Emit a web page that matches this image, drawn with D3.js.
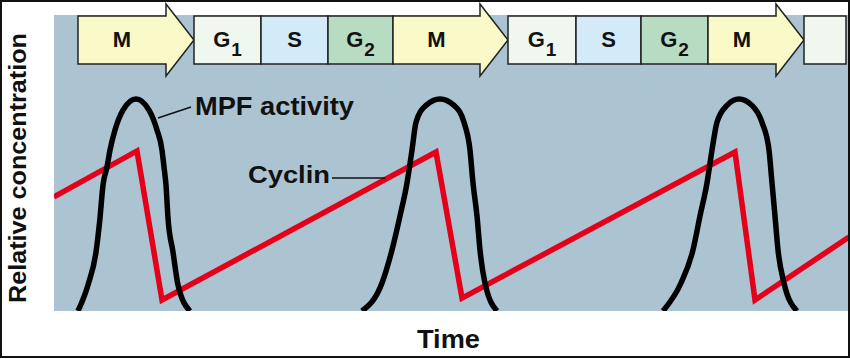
<!DOCTYPE html>
<html>
<head>
<meta charset="utf-8">
<script src="https://cdn.jsdelivr.net/npm/d3@7"></script>
<style>
body { margin: 0; background: #fff; }
text { font-family: "Liberation Sans", Arial, sans-serif; font-weight: bold; fill: #111; }
</style>
</head>
<body>
<div id="output"></div>
<script>
var w = 850;
var h = 359;

// cell cycle phases (time units)
var phaseNames = ['M', 'G1', 'S', 'G2', 'M', 'G1', 'S', 'G2', 'M', 'G1'];
var phaseEdges = [4.8, 28, 41.4, 54.8, 67.8, 90.8, 104.4, 117.4, 130.8, 150, 158.4];
var phaseColors = { M: '#fafac8', G1: '#eff7ef', S: '#d3ebf8', G2: '#b7dcc1' };

// cyclin concentration (red)
var cyclinTime = [0, 16.6, 21.6, 76.4, 81.6, 136.2, 140.2, 159];
var cyclinLevel = [53.8, 75.5, 5.2, 75, 6.1, 75, 5.2, 34.9];

// MPF activity pulses (black)
var mpfTime = [
	[4.8, 6.8, 8.4, 9.2, 9.8, 10.6, 11.2, 12.2, 13.8, 16.4, 19, 20.6, 21.6, 22, 22.4, 22.8, 23.8, 24.8, 27.2],
	[61.6, 65.6, 67.6, 69.2, 70.6, 71.6, 72.4, 74.4, 77.2, 80, 82, 83.2, 83.8, 84.6, 85.2, 86.2, 88.6],
	[121.8, 125.4, 127.8, 129.2, 130.6, 131.6, 132.6, 134.6, 137, 139.6, 141.6, 143, 143.6, 144.2, 144.8, 146, 148.6]
];
var mpfLevel = [
	[0, 12.3, 27.8, 43.9, 59.4, 67.9, 75.9, 85.4, 94.8, 100, 94.8, 85.4, 75.9, 67.9, 59.4, 43.9, 27.8, 12.3, 0],
	[0, 13.2, 28.8, 44.8, 60.4, 75.9, 89, 97, 100, 97, 89, 75.9, 60.4, 44.8, 28.8, 13.2, 0],
	[0, 13.2, 28.8, 44.8, 60.4, 75.9, 89, 97, 100, 97, 89, 75.9, 60.4, 44.8, 28.8, 13.2, 0]
];

var x = d3.scaleLinear().domain([0, 159]).range([54, 849]);
var y = d3.scaleLinear().domain([0, 100]).range([311, 99]);
var plotTop = 15;

var svg = d3.select('#output').append('svg')
	.attr('width', w)
	.attr('height', h);

svg.append('rect')
	.attr('x', x(0)).attr('y', plotTop)
	.attr('width', x(159) - x(0)).attr('height', y(0) - plotTop)
	.attr('fill', '#acc3d2');

svg.append('clipPath').attr('id', 'plot')
	.append('rect')
	.attr('x', x(0)).attr('y', plotTop)
	.attr('width', x(159) - x(0)).attr('height', y(0) - plotTop);

// phase bar
var barTop = 16, barBot = 64, head = 28;
var phases = phaseNames.map(function (n, i) {
	return { name: n, x0: x(phaseEdges[i]), x1: x(phaseEdges[i + 1]), last: i === phaseNames.length - 1 };
});

svg.selectAll('path.phase')
	.data(phases)
	.enter()
	.append('path')
	.attr('class', 'phase')
	.attr('d', function (d) {
		if (d.name === 'M') {
			return 'M' + d.x0 + ',' + barTop + 'H' + (d.x1 - head) + 'V4L' + d.x1 + ',' + ((barTop + barBot) / 2) +
				'L' + (d.x1 - head) + ',76V' + barBot + 'H' + d.x0 + 'Z';
		}
		return 'M' + d.x0 + ',' + barTop + 'H' + d.x1 + 'V' + barBot + 'H' + d.x0 + 'Z';
	})
	.attr('fill', function (d) { return phaseColors[d.name]; })
	.attr('stroke', '#222')
	.attr('stroke-width', 1.5);

var labels = svg.selectAll('text.phase')
	.data(phases.filter(function (d) { return !d.last; }))
	.enter()
	.append('text')
	.attr('class', 'phase')
	.attr('text-anchor', 'middle')
	.attr('font-size', 22)
	.attr('x', function (d) { return d.name === 'M' ? (d.x0 + d.x1 - head) / 2 : (d.x0 + d.x1) / 2; })
	.attr('y', 47);
labels.append('tspan').text(function (d) { return d.name.charAt(0); });
labels.filter(function (d) { return d.name.length > 1; })
	.append('tspan')
	.attr('dx', 1)
	.attr('dy', 9)
	.attr('font-size', 19)
	.text(function (d) { return d.name.slice(1); });

// curves
var g = svg.append('g').attr('clip-path', 'url(#plot)');

var cyclin = cyclinTime.map(function (t, i) { return [t, cyclinLevel[i]]; });
g.append('path')
	.datum(cyclin)
	.attr('d', d3.line().x(function (d) { return x(d[0]); }).y(function (d) { return y(d[1]); }))
	.attr('fill', 'none')
	.attr('stroke', '#e5001a')
	.attr('stroke-width', 5.5)
	.attr('stroke-linejoin', 'miter');

var mpfLine = d3.line()
	.curve(d3.curveMonotoneX)
	.x(function (d) { return x(d[0]); })
	.y(function (d) { return y(d[1]); });

g.selectAll('path.mpf')
	.data(mpfTime.map(function (ts, k) { return ts.map(function (t, i) { return [t, mpfLevel[k][i]]; }); }))
	.enter()
	.append('path')
	.attr('class', 'mpf')
	.attr('d', mpfLine)
	.attr('fill', 'none')
	.attr('stroke', '#000')
	.attr('stroke-width', 5.5);

// annotations
svg.append('line')
	.attr('x1', 158).attr('y1', 118).attr('x2', 191).attr('y2', 107)
	.attr('stroke', '#111').attr('stroke-width', 1.5);
svg.append('text')
	.attr('x', 195).attr('y', 115)
	.attr('font-size', 25)
	.attr('textLength', 159).attr('lengthAdjust', 'spacingAndGlyphs')
	.text('MPF activity');

svg.append('line')
	.attr('x1', 332).attr('y1', 178).attr('x2', 385).attr('y2', 178)
	.attr('stroke', '#111').attr('stroke-width', 1.5);
svg.append('text')
	.attr('x', 248).attr('y', 183)
	.attr('font-size', 23)
	.attr('textLength', 82).attr('lengthAdjust', 'spacingAndGlyphs')
	.text('Cyclin');

svg.append('text')
	.attr('x', 417).attr('y', 348)
	.attr('font-size', 25)
	.attr('textLength', 63).attr('lengthAdjust', 'spacingAndGlyphs')
	.text('Time');

svg.append('text')
	.attr('transform', 'translate(26,168) rotate(-90)')
	.attr('text-anchor', 'middle')
	.attr('font-size', 23)
	.attr('textLength', 270).attr('lengthAdjust', 'spacingAndGlyphs')
	.text('Relative concentration');

// frame
svg.append('rect')
	.attr('x', 1).attr('y', 1)
	.attr('width', 848).attr('height', 356)
	.attr('fill', 'none')
	.attr('stroke', '#111')
	.attr('stroke-width', 2);
</script>
</body>
</html>
